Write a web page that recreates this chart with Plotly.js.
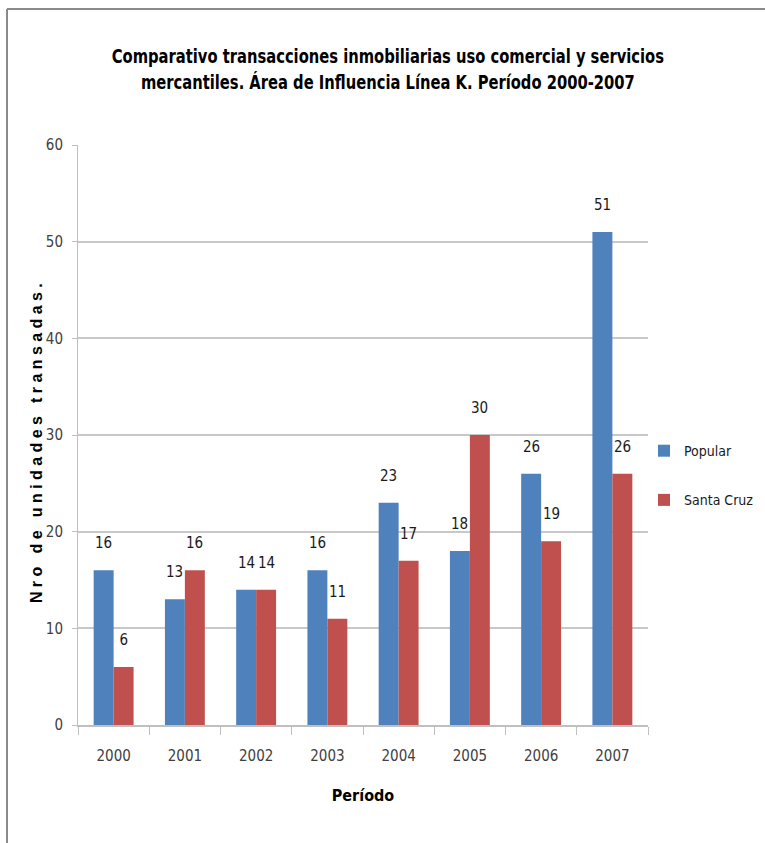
<!DOCTYPE html>
<html>
<head>
<meta charset="utf-8">
<script src="https://cdn.plot.ly/plotly-3.0.1.min.js"></script>
<style>
html,body{margin:0;padding:0;background:#fff;overflow:hidden;}
#chart{width:765px;height:843px;}
#chart .main-svg text{font-stretch:condensed;}
#chart .ytitle{letter-spacing:4.4px;font-stretch:normal !important;translate:5px 6px;}
#chart .gtitle{transform-box:fill-box;transform-origin:center;transform:scaleX(0.82);}
</style>
</head>
<body>
<div id="chart"></div>
<script>
const periods = ["2000","2001","2002","2003","2004","2005","2006","2007"];
const popular = [16,13,14,16,23,18,26,51];
const santaCruz = [6,16,14,11,17,30,19,26];
const seriesNames = ["Popular","Santa Cruz"];
const yTicks = [0,10,20,30,40,50,60];

const NARROW = '"DejaVu Sans", sans-serif';
const colors = ["#4F81BD","#C0504D"];

const traces = [popular, santaCruz].map((vals, i) => ({
  type: 'bar',
  name: seriesNames[i],
  legendgroup: 'g' + i,
  x: periods,
  y: vals,
  marker: {color: colors[i], line: {width: 0}},
  hoverinfo: 'x+y+name'
}));

const annotations = [];
[popular, santaCruz].forEach((vals, i) => {
  vals.forEach((v, j) => {
    annotations.push({
      x: j, y: v, xref: 'x', yref: 'y',
      text: String(v), showarrow: false,
      xshift: i === 0 ? -10 : 10, yshift: 16,
      yanchor: 'bottom', xanchor: 'center',
      font: {family: NARROW, size: 15, color: '#1a1a1a'}
    });
  });
});

const layout = {
  width: 765, height: 843,
  paper_bgcolor: '#fff', plot_bgcolor: '#fff',
  margin: {l: 78, r: 117, t: 145, b: 118, autoexpand: false},
  title: {
    text: '<b>Comparativo transacciones inmobiliarias uso comercial y servicios<br>mercantiles. Área de Influencia Línea K. Período 2000-2007</b>',
    font: {family: NARROW, size: 20, color: '#000'},
    x: 0.507, xanchor: 'center', y: (843-63)/843, yanchor: 'top'
  },
  barmode: 'group',
  bargap: 0.44,
  bargroupgap: 0,
  showlegend: true,
  legend: {
    x: 0.993, xanchor: 'left', y: 0.43, yanchor: 'middle',
    font: {family: NARROW, size: 14, color: '#1a1a1a'},
    itemwidth: 30, tracegroupgap: 28, traceorder: 'grouped',
    bgcolor: 'rgba(0,0,0,0)'
  },
  xaxis: {
    type: 'category',
    range: [-0.5, 7.5],
    tickfont: {family: NARROW, size: 15, color: '#404040'},
    showline: true, linecolor: '#bfbfbf', linewidth: 2,
    ticks: 'outside', ticklen: 8, tickcolor: '#bfbfbf', tickwidth: 1,
    tickson: 'boundaries',
    ticklabelstandoff: 16,
    showgrid: false, zeroline: false,
    title: {text: '<b>Período</b>', font: {family: NARROW, size: 16, color: '#000'}, standoff: 26}
  },
  yaxis: {
    range: [0, 60],
    tickvals: yTicks,
    ticktext: yTicks.map(String),
    tickfont: {family: NARROW, size: 15, color: '#404040'},
    showline: true, linecolor: '#bfbfbf', linewidth: 1,
    ticks: 'outside', ticklen: 5, tickcolor: '#bfbfbf',
    ticklabelstandoff: 6,
    showgrid: true, gridcolor: '#c8c8c8', gridwidth: 2,
    zeroline: false,
    title: {text: '<b>Nro de unidades transadas.</b>', font: {family: '"Liberation Sans", Arial, sans-serif', size: 16, color: '#000'}, standoff: 2}
  },
  annotations: annotations,
  shapes: [
    {type: 'line', xref: 'paper', yref: 'paper', x0: (7-78)/570, x1: (765-78)/570, y0: (725-9)/580, y1: (725-9)/580, line: {color: '#8a8a8a', width: 2}},
    {type: 'line', xref: 'paper', yref: 'paper', x0: (7-78)/570, x1: (7-78)/570, y0: (725-9)/580, y1: (725-843)/580, line: {color: '#8a8a8a', width: 2}}
  ]
};

Plotly.newPlot('chart', traces, layout, {displayModeBar: false, staticPlot: true});
</script>
</body>
</html>
